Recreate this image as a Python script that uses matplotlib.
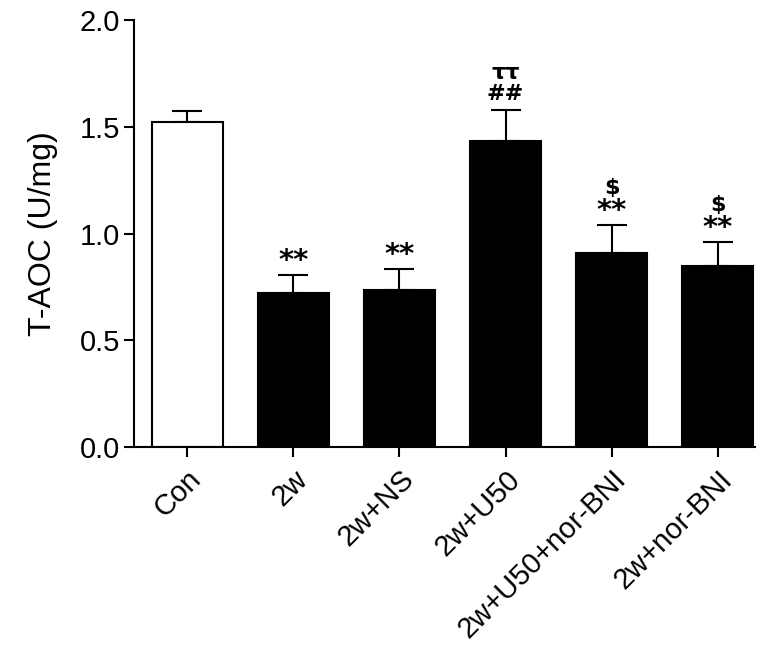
import numpy as np
import matplotlib
matplotlib.use("Agg")
import matplotlib.pyplot as plt

plt.rcParams['font.family'] = ['Liberation Sans', 'DejaVu Sans']

# DATA
groups = ['Con', '2w', '2w+NS', '2w+U50', '2w+U50+nor-BNI', '2w+nor-BNI']
means = [1.52, 0.72, 0.735, 1.435, 0.91, 0.85]
sems = [0.055, 0.085, 0.10, 0.145, 0.13, 0.11]
fills = ['white', 'black', 'black', 'black', 'black', 'black']
# significance marks, stacked bottom -> top
marks = [[], ['**'], ['**'], ['##', 'ττ'], ['**', '$'], ['**', '$']]

fig = plt.figure(figsize=(7.81, 6.48), dpi=100)
ax = fig.add_axes([0.1716, 0.3102, 0.7951, 0.6589])

x = np.arange(len(groups))
ax.bar(x, means, width=0.67, color=fills, edgecolor='black', linewidth=1.5, zorder=2)
ax.errorbar(x, means, yerr=[np.zeros(len(sems)), sems], fmt='none', ecolor='black',
            elinewidth=1.5, capsize=11, capthick=1.5, zorder=1)

# annotations above the error bars
for i, lst in enumerate(marks):
    top = means[i] + sems[i]
    for j, s in enumerate(lst):
        if s == '**':
            ax.text(x[i], top + 0.0 + j * 0.1, s, ha='center', va='bottom',
                    fontsize=21, fontweight='bold', family='DejaVu Sans')
        else:
            ax.text(x[i], top + 0.025 + j * 0.1, s, ha='center', va='bottom',
                    fontsize=16, fontweight='bold', family='DejaVu Sans')

ax.set_ylim(0, 2.0)
ax.set_xlim(-0.5, 5.35)
ax.set_yticks([0.0, 0.5, 1.0, 1.5, 2.0])
ax.set_yticklabels(['0.0', '0.5', '1.0', '1.5', '2.0'])
ax.set_xticks(x)
ax.set_xticklabels(groups, rotation=45, ha='right', rotation_mode='anchor')
ax.tick_params(axis='both', labelsize=21, width=1.5, length=7, direction='out')
ax.tick_params(axis='y', pad=3)
ax.tick_params(axis='x', pad=6)
ax.set_ylabel('T-AOC (U/mg)', fontsize=23, labelpad=16)

for side in ['top', 'right']:
    ax.spines[side].set_visible(False)
for side in ['left', 'bottom']:
    ax.spines[side].set_linewidth(1.5)

fig.savefig('out.png', dpi=100)
